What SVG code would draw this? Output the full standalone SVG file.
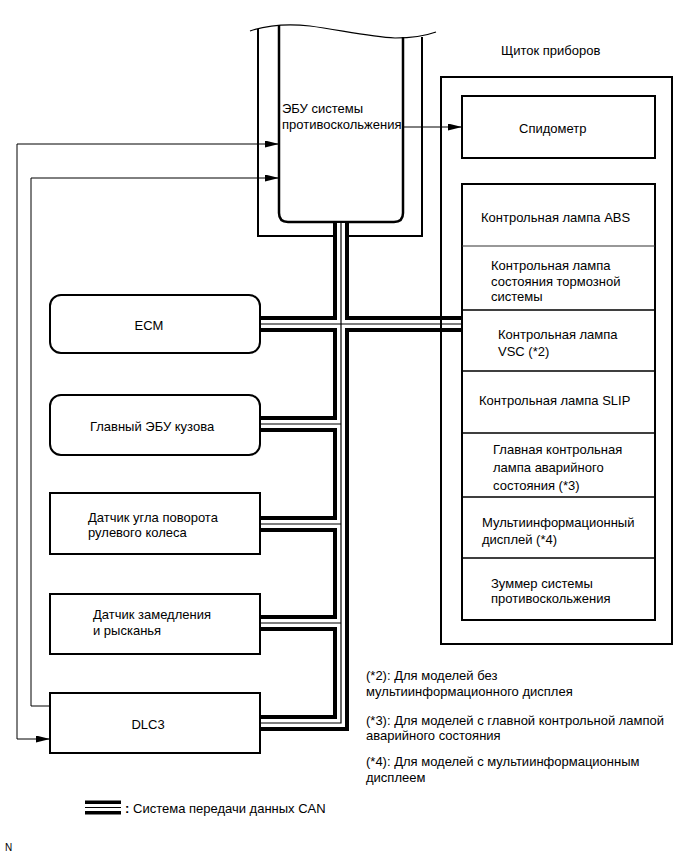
<svg xmlns="http://www.w3.org/2000/svg" xmlns:xlink="http://www.w3.org/1999/xlink" width="690" height="855" viewBox="0 0 690 855">
<style>
text{font-family:"Liberation Sans",Arial,sans-serif;font-size:13px;fill:#000}
.mid{text-anchor:middle}
.box{fill:#fff;stroke:#000;stroke-width:2}
.frame{fill:none;stroke:#000;stroke-width:2}
.div{fill:none;stroke:#000;stroke-width:1.5}
.wire{fill:none;stroke:#000;stroke-width:1}
.busA{fill:none;stroke:#000;stroke-width:16;stroke-linejoin:miter}
.busB{fill:none;stroke:#fff;stroke-width:8;stroke-linejoin:miter}
.busC{fill:none;stroke:#000;stroke-width:1.2;stroke-linejoin:miter}
</style>
<defs>
<marker id="arr" markerUnits="userSpaceOnUse" markerWidth="15" markerHeight="8" refX="14" refY="3.5" orient="auto">
<path d="M0,0 L14,3.5 L0,7 z" fill="#000"/>
</marker>
<path id="busPath" d="M341,223 V723 H261 M341,324 H261 M341,324 H462 M341,424 H261 M341,524 H261 M341,623 H261"/>
<path id="legPath" d="M85,807.5 H121"/>
</defs>
<rect width="690" height="855" fill="#fff"/>

<g id="ecu-abs">
<path class="frame" d="M258,29 V236 H422 V37"/>
<path d="M250,31 C265,26 285,23 310,26 C340,30 370,37 395,38 C410,38 425,36 436,32" fill="none" stroke="#000" stroke-width="1.2"/>
<path d="M279,25 V213 Q279,222 288,222 H394 Q403,222 403,213 V37" fill="none" stroke="#000" stroke-width="2.5"/>
<text x="282" y="113">ЭБУ системы</text>
<text x="282" y="129">противоскольжения</text>
</g>

<g id="connectors">
<use xlink:href="#busPath" class="busA"/>
<use xlink:href="#busPath" class="busB"/>
<use xlink:href="#busPath" class="busC"/>
<path class="wire" d="M403,127 H462" marker-end="url(#arr)"/>
<path class="wire" d="M17,144 H279" marker-end="url(#arr)"/>
<path class="wire" d="M17,144 V739 H50" marker-end="url(#arr)"/>
<path class="wire" d="M50,706 H31 V178 H279" marker-end="url(#arr)"/>
</g>

<g id="instrument-panel">
<text x="501" y="55">Щиток приборов</text>
<rect class="frame" x="441" y="77" width="231" height="567"/>
</g>

<g id="speedometer">
<rect class="box" x="462" y="96" width="193" height="62"/>
<text x="519" y="133">Спидометр</text>
</g>

<g id="lamp-stack">
<rect class="box" x="462" y="184" width="193" height="436"/>
<path d="M462,246 H655" stroke="#333" stroke-width="1.2" fill="none"/>
<path class="div" d="M462,310 H655 M462,371 H655 M462,433 H655 M462,497 H655 M462,558 H655"/>
</g>
<g id="abs-lamp"><text x="481" y="222">Контрольная лампа ABS</text></g>
<g id="brake-lamp">
<text x="491" y="270">Контрольная лампа</text>
<text x="491" y="285.5">состояния тормозной</text>
<text x="491" y="301">системы</text>
</g>
<g id="vsc-lamp">
<text x="498" y="339">Контрольная лампа</text>
<text x="498" y="356">VSC (*2)</text>
</g>
<g id="slip-lamp"><text x="479" y="405">Контрольная лампа SLIP</text></g>
<g id="master-warning">
<text x="493" y="454">Главная контрольная</text>
<text x="493" y="472">лампа аварийного</text>
<text x="493" y="490">состояния (*3)</text>
</g>
<g id="multi-display">
<text x="482" y="527">Мультиинформационный</text>
<text x="482" y="544">дисплей (*4)</text>
</g>
<g id="buzzer">
<text x="491" y="588">Зуммер системы</text>
<text x="491" y="603">противоскольжения</text>
</g>

<g id="ecm">
<rect class="box" x="50" y="295" width="210" height="58" rx="11"/>
<text class="mid" x="149" y="329.5">ECM</text>
</g>
<g id="main-body-ecu">
<rect class="box" x="50" y="395" width="210" height="60" rx="11"/>
<text class="mid" x="152" y="431">Главный ЭБУ кузова</text>
</g>
<g id="steering-sensor">
<rect class="box" x="50" y="493" width="210" height="61"/>
<text x="88" y="521.5">Датчик угла поворота</text>
<text x="88" y="537">рулевого колеса</text>
</g>
<g id="yaw-sensor">
<rect class="box" x="50" y="594" width="210" height="60"/>
<text x="93" y="618.5">Датчик замедления</text>
<text x="93" y="634.5">и рысканья</text>
</g>
<g id="dlc3">
<rect class="box" x="50" y="693" width="210" height="60"/>
<text class="mid" x="148" y="728.5">DLC3</text>
</g>

<g id="notes">
<text x="366" y="679.5">(*2): Для моделей без</text>
<text x="366" y="695.5">мультиинформационного дисплея</text>
<text x="366" y="724.5">(*3): Для моделей с главной контрольной лампой</text>
<text x="366" y="739.5">аварийного состояния</text>
<text x="366" y="766">(*4): Для моделей с мультиинформационным</text>
<text x="366" y="781.5">дисплеем</text>
</g>

<g id="legend">
<use xlink:href="#legPath" class="busA" style="stroke-width:14"/>
<use xlink:href="#legPath" class="busB" style="stroke-width:7"/>
<use xlink:href="#legPath" class="busC"/>
<text x="125" y="813" style="font-weight:bold">:</text>
<text x="133" y="813">Система передачи данных CAN</text>
</g>
<text x="5" y="851" style="font-size:10px">N</text>
</svg>
